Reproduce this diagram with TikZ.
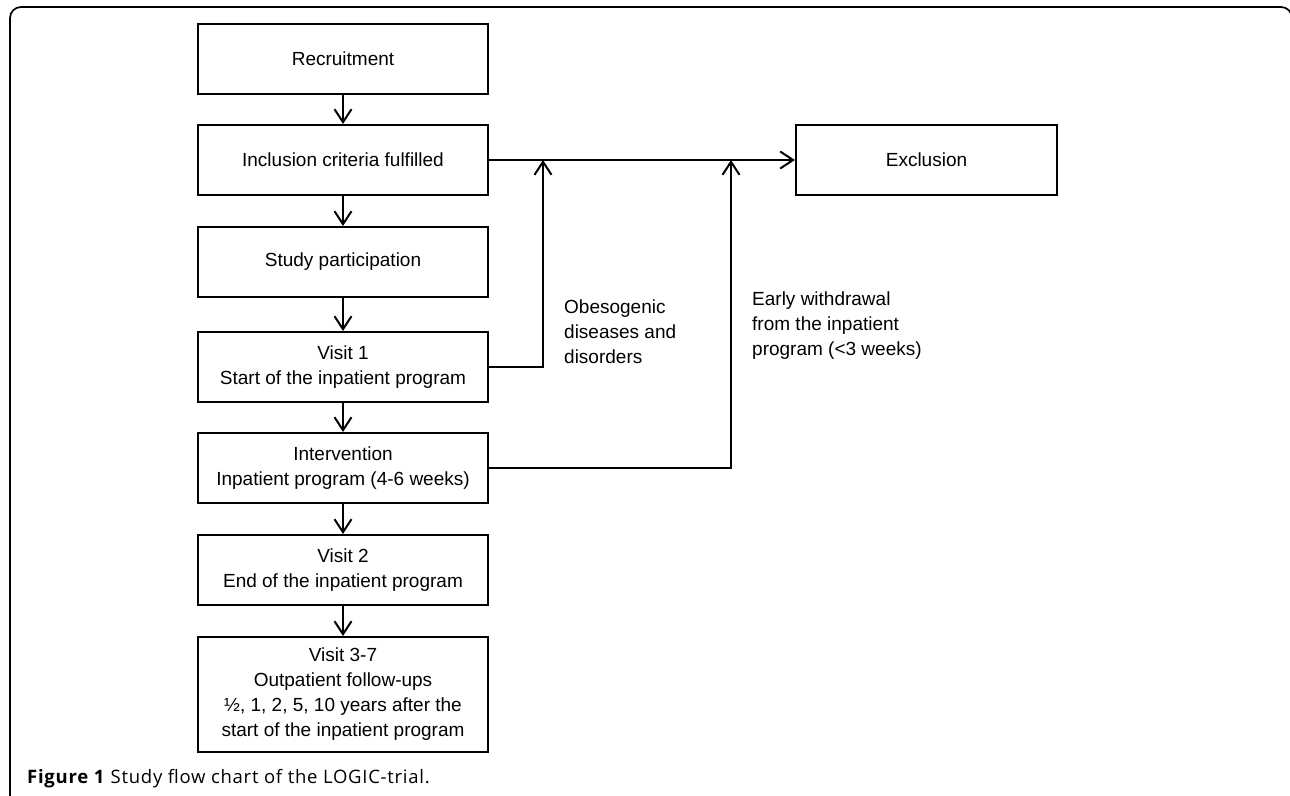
\documentclass[tikz,border=0pt]{standalone}
\usepackage{fontspec}
\setmainfont{Liberation Sans}
\newfontfamily\capfont[LetterSpace=4]{Open Sans}
\usetikzlibrary{arrows.meta}
\begin{document}
\begin{tikzpicture}[x=1pt,y=-1pt,
  box/.style={draw, line width=2pt, minimum width=290pt, minimum height=70pt, inner sep=0pt, align=center, font=\fontsize{19}{25}\selectfont},
  conn/.style={line width=2pt, -{Straight Barb[length=13pt,width=17pt,line width=2pt]}},
  lbl/.style={anchor=west, align=left, inner sep=0pt, font=\fontsize{19}{25}\selectfont}]
\useasboundingbox (0,0) rectangle (1290,795);
\begin{scope}
\clip (0,0) rectangle (1290,795);
\draw[line width=1.7pt, rounded corners=11pt] (10,805) -- (10,7) -- (1292,7) -- (1292,805);
\end{scope}
\node[box] (rec) at (343,59) {Recruitment};
\node[box] (inc) at (343,160) {Inclusion criteria fulfilled};
\node[box] (stu) at (343,262) {Study participation};
\node[box] (v1) at (343,367) {Visit 1\\Start of the inpatient program};
\node[box] (int) at (343,468) {Intervention\\Inpatient program (4-6 weeks)};
\node[box] (v2) at (343,570) {Visit 2\\End of the inpatient program};
\node[box, minimum height=115pt] (v37) at (343,694.5) {Visit 3-7\\Outpatient follow-ups\\½, 1, 2, 5, 10 years after the\\start of the inpatient program};
\node[box, minimum width=261pt] (exc) at (926.5,160) {Exclusion};
\coordinate (j1) at (543,160);
\coordinate (j2) at (731,160);
\draw[conn] (rec) -- (inc);
\draw[conn] (inc) -- (stu);
\draw[conn] (stu) -- (v1);
\draw[conn] (v1) -- (int);
\draw[conn] (int) -- (v2);
\draw[conn] (v2) -- (v37);
\draw[conn] (inc.east) -- (exc.west);
\draw[conn] (v1.east) -| (j1);
\draw[conn] (int.east) -| (j2);
\node[lbl] (l1) at (564,332) {Obesogenic\\diseases and\\disorders};
\node[lbl] (l2) at (752,325.5) {Early withdrawal\\from the inpatient\\program (<3 weeks)};
\node[anchor=base west, inner sep=0pt, font=\capfont\fontsize{18.5}{20}\selectfont] (cap) at (27,783) {\textbf{Figure 1} Study flow chart of the LOGIC-trial.};
\end{tikzpicture}
\end{document}
